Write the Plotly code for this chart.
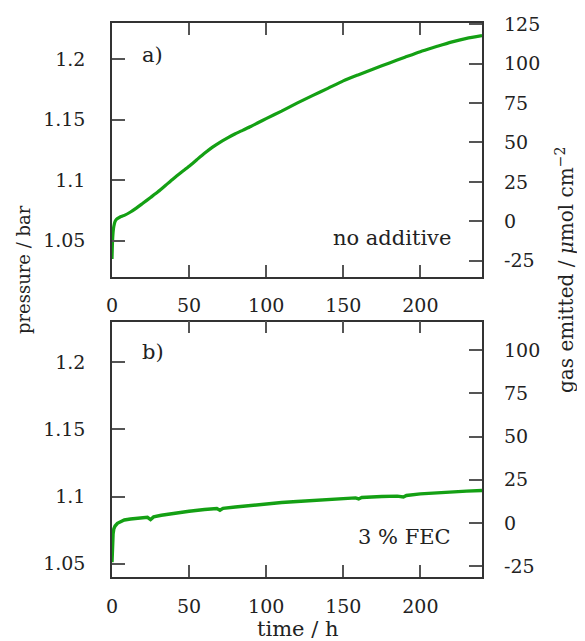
import plotly.graph_objects as go

# ---- data ----
time_a = [0, 0.3, 0.7, 1.2, 2, 3, 5, 8, 12, 16, 20, 25, 30, 35, 40, 45, 50, 55, 60, 65, 70, 75,
          80, 85, 90, 95, 100, 110, 120, 130, 140, 150, 160, 170, 180, 190, 200, 210, 220, 230, 240]
pressure_a = [1.035, 1.048, 1.057, 1.062, 1.066, 1.068, 1.0695, 1.071, 1.0738, 1.0772, 1.081,
              1.0858, 1.0907, 1.0961, 1.1015, 1.1066, 1.1116, 1.117, 1.1223, 1.1272, 1.1314, 1.1351,
              1.1385, 1.1415, 1.1445, 1.1478, 1.151, 1.1572, 1.1638, 1.170, 1.176, 1.1822, 1.1873,
              1.1922, 1.197, 1.2017, 1.2063, 1.2103, 1.2142, 1.2173, 1.2195]

time_b = [0, 0.3, 0.7, 1.2, 2, 3.5, 5, 8, 12, 18, 23, 25, 27, 32, 40, 50, 60, 68, 70, 72, 80,
          90, 100, 110, 120, 130, 140, 150, 158, 160, 162, 175, 185, 189, 191, 200, 210, 220,
          230, 240]
pressure_b = [1.051, 1.065, 1.072, 1.076, 1.078, 1.080, 1.081, 1.0825, 1.0832, 1.084, 1.0845,
              1.0828, 1.0848, 1.086, 1.0875, 1.089, 1.0903, 1.091, 1.0898, 1.0912, 1.0922, 1.0935,
              1.0945, 1.0955, 1.0963, 1.097, 1.0977, 1.0983, 1.099, 1.0982, 1.0993, 1.100,
              1.1003, 1.0996, 1.1008, 1.102, 1.1028, 1.1035, 1.104, 1.1045]

x_ticks = [0, 50, 100, 150, 200]
p_ticks = [1.05, 1.1, 1.15, 1.2]
p_tick_text = ["1.05", "1.1", "1.15", "1.2"]
gas_ticks_a = [-25, 0, 25, 50, 75, 100, 125]
gas_ticks_b = [-25, 0, 25, 50, 75, 100]

GREEN = "#14a014"
FRAME = "#333333"
TICKC = "#555555"
FONT = "DejaVu Serif"

fig = go.Figure()
fig.add_trace(go.Scatter(x=time_a, y=pressure_a, mode="lines",
                         line=dict(color=GREEN, width=3.2, shape="spline", smoothing=0.6),
                         xaxis="x", yaxis="y", showlegend=False))
fig.add_trace(go.Scatter(x=time_b, y=pressure_b, mode="lines",
                         line=dict(color=GREEN, width=3.4), xaxis="x2", yaxis="y3",
                         showlegend=False))
# empty traces so the right-hand (gas emitted) axes are drawn
fig.add_trace(go.Scatter(x=time_a, y=[None] * len(time_a), mode="lines", xaxis="x",
                         yaxis="y2", showlegend=False, hoverinfo="skip"))
fig.add_trace(go.Scatter(x=time_b, y=[None] * len(time_b), mode="lines", xaxis="x2",
                         yaxis="y4", showlegend=False, hoverinfo="skip"))

xcommon = dict(range=[0, 240], tickvals=x_ticks, ticks="inside", ticklen=12,
               tickwidth=1.5, tickcolor=TICKC, showline=True, linecolor=FRAME,
               linewidth=1.5, mirror="ticks", showgrid=False, zeroline=False,
               ticklabelstandoff=11, tickfont=dict(family=FONT, size=19, color="#222"))
ycommon = dict(ticks="inside", ticklen=13, tickwidth=1.5, tickcolor=TICKC,
               showgrid=False, zeroline=False, ticklabelstandoff=21,
               tickfont=dict(family=FONT, size=19, color="#222"))

# page body has an 8px margin, so the figure is 8px smaller than the window
fig.update_layout(
    width=577, height=633,
    margin=dict(l=104, r=103, t=15, b=64, autoexpand=False),
    paper_bgcolor="white", plot_bgcolor="white",
    xaxis=dict(domain=[0, 1], anchor="y", **xcommon),
    xaxis2=dict(domain=[0, 1], anchor="y3", **xcommon),
    yaxis=dict(domain=[0.542, 1], anchor="x", range=[1.0203, 1.2300],
               tickvals=p_ticks, ticktext=p_tick_text, showline=True,
               linecolor=FRAME, linewidth=1.5, mirror=True, **ycommon),
    yaxis2=dict(overlaying="y", anchor="x", side="right", range=[-35.1, 125.7],
                tickvals=gas_ticks_a, ticktext=[str(v) for v in gas_ticks_a],
                showline=False, **ycommon),
    yaxis3=dict(domain=[0, 0.4608], anchor="x2", range=[1.040, 1.2303],
                tickvals=p_ticks, ticktext=p_tick_text, showline=True,
                linecolor=FRAME, linewidth=1.5, mirror=True, **ycommon),
    yaxis4=dict(overlaying="y3", anchor="x2", side="right", range=[-31.2, 116.4],
                tickvals=gas_ticks_b, ticktext=[str(v) for v in gas_ticks_b],
                showline=False, **ycommon),
)

tf = dict(family=FONT, size=21, color="#222")
ann = [
    dict(text="a)", x=0.0757, y=0.942, xanchor="left", yanchor="middle", font=tf),
    dict(text="b)", x=0.0757, y=0.406, xanchor="left", yanchor="middle", font=tf),
    dict(text="no additive", x=0.9216, y=0.612, xanchor="right", yanchor="middle", font=tf),
    dict(text="3 % FEC", x=0.9216, y=0.0722, xanchor="right", yanchor="middle", font=tf),
    dict(text="time / h", x=0.5, y=-0.0939, xanchor="center", yanchor="middle", font=tf),
    dict(text="pressure / bar", x=-0.2405, y=0.554, xanchor="center", yanchor="middle",
         textangle=-90, font=dict(family=FONT, size=18, color="#222")),
    dict(text="gas emitted / <i>μ</i>mol cm<sup>−2</sup>", x=1.224, y=0.554,
         xanchor="center", yanchor="middle", textangle=-90,
         font=dict(family=FONT, size=20, color="#222")),
]
for a in ann:
    a.update(xref="paper", yref="paper", showarrow=False)
fig.update_layout(annotations=ann)

fig.write_html("out.html")
